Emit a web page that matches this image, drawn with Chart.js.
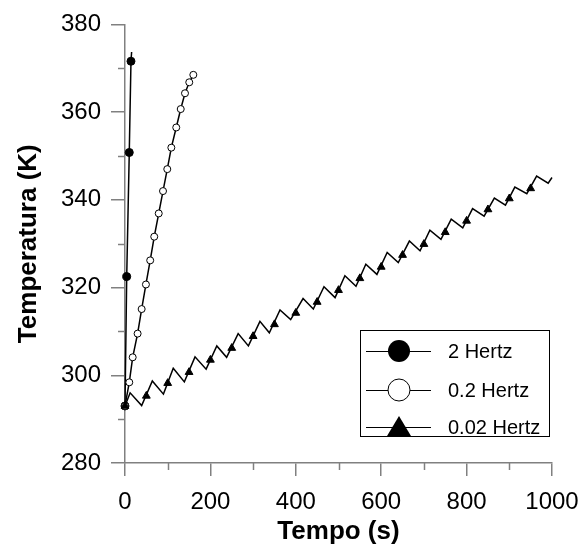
<!DOCTYPE html>
<html>
<head>
<meta charset="utf-8">
<script src="https://cdn.jsdelivr.net/npm/chart.js@4.4.0/dist/chart.umd.min.js"></script>
<style>
  body { margin: 0; background: #ffffff; }
</style>
</head>
<body>
<canvas id="myChart" width="586" height="546"></canvas>
<script>
// 2 Hertz
const hz2Time = [0, 4, 10, 14, 15.5];
const hz2Temp = [293.0, 322.5, 350.8, 371.6, 373.7];
const hz2MarkTime = [0, 4, 10, 14];
const hz2MarkTemp = [293.0, 322.5, 350.8, 371.6];

// 0.2 Hertz
const hz02Time = [0, 10, 18, 29.5, 39, 49, 59, 68.5, 79, 89, 99, 108.5, 120, 130.5, 140.5, 150.5, 160];
const hz02Temp = [293.0, 298.4, 304.1, 309.5, 315.1, 320.7, 326.2, 331.6, 336.9, 342.0, 347.0, 351.9, 356.5, 360.7, 364.3, 366.8, 368.5];

// 0.02 Hertz (sawtooth vertices)
const hz002Time = [0, 12, 39, 64, 90, 113, 139, 164, 190, 215, 238, 265, 289, 316, 338, 363, 388, 417, 441, 466,
  492, 515, 541, 564, 590, 614, 640, 666, 691, 714, 740, 764, 791, 814, 841, 865, 891, 913, 941, 964, 991, 1000];
const hz002Temp = [293.0, 296.0, 293.1, 298.7, 295.7, 301.6, 298.5, 304.2, 301.4, 306.7, 304.1, 309.5, 306.7, 312.3,
  309.7, 314.9, 312.7, 317.5, 315.1, 320.2, 317.7, 322.7, 320.3, 325.3, 323.0, 328.0, 325.7, 330.6, 328.4, 333.1,
  331.0, 335.6, 333.6, 338.0, 336.3, 340.4, 338.8, 342.9, 341.4, 345.4, 343.8, 345.1];
const hz002MarkTime = [0, 50, 100, 150, 200, 250, 300, 350, 400, 450, 500, 550, 600, 650, 700, 750, 800, 850, 900, 950];
const hz002MarkTemp = [293.0, 295.3, 298.2, 300.7, 303.5, 306.2, 308.9, 311.6, 314.2, 316.7, 319.4, 322.1, 324.7,
  327.4, 329.9, 332.6, 335.2, 337.8, 340.3, 342.6];

const legendLabels = ["2 Hertz", "0.2 Hertz", "0.02 Hertz"];
const yMinorTicks = [290, 310, 330, 350, 370];
const xMinorTicks = [100, 300, 500, 700, 900];

function toPoints(xs, ys) {
  let pts = [];
  for (let i = 0; i < xs.length; i++) {
    pts.push({ x: xs[i], y: ys[i] });
  }
  return pts;
}

const axisGrey = "#808080";
const fontFamily = "'Liberation Sans', Arial, sans-serif";

// minor ticks (shorter than the major ones)
const minorTicks = {
  id: "minorTicks",
  afterDraw(chart) {
    const ctx = chart.ctx;
    const xs = chart.scales.x;
    const ys = chart.scales.y;
    ctx.save();
    ctx.strokeStyle = axisGrey;
    ctx.lineWidth = 1.5;
    yMinorTicks.forEach(function (v) {
      let py = Math.round(ys.getPixelForValue(v)) + 0.5;
      ctx.beginPath();
      ctx.moveTo(ys.right - 7, py);
      ctx.lineTo(ys.right, py);
      ctx.stroke();
    });
    xMinorTicks.forEach(function (v) {
      let px = Math.round(xs.getPixelForValue(v)) + 0.5;
      ctx.beginPath();
      ctx.moveTo(px, xs.top);
      ctx.lineTo(px, xs.top + 7);
      ctx.stroke();
    });
    ctx.restore();
  }
};

// boxed legend inside the plot, line through marker
const boxLegend = {
  id: "boxLegend",
  afterDraw(chart) {
    const ctx = chart.ctx;
    const left = 360, top = 330, w = 189, h = 106;
    const rows = [351, 390, 427];
    ctx.save();
    ctx.fillStyle = "#ffffff";
    ctx.fillRect(left, top, w, h);
    ctx.strokeStyle = "#000000";
    ctx.lineWidth = 1;
    ctx.strokeRect(left + 0.5, top + 0.5, w, h);
    for (let i = 0; i < rows.length; i++) {
      let y = rows[i];
      ctx.beginPath();
      ctx.moveTo(366, y + 0.5);
      ctx.lineTo(431, y + 0.5);
      ctx.stroke();
      ctx.beginPath();
      if (i === 0) {
        ctx.arc(399, y, 11, 0, Math.PI * 2);
        ctx.fillStyle = "#000000";
        ctx.fill();
      } else if (i === 1) {
        ctx.arc(399, y, 11, 0, Math.PI * 2);
        ctx.fillStyle = "#ffffff";
        ctx.fill();
        ctx.stroke();
      } else {
        ctx.moveTo(399, y - 11);
        ctx.lineTo(411, y + 9);
        ctx.lineTo(387, y + 9);
        ctx.closePath();
        ctx.fillStyle = "#000000";
        ctx.fill();
      }
      ctx.fillStyle = "#000000";
      ctx.font = "20px " + fontFamily;
      ctx.textBaseline = "middle";
      ctx.textAlign = "left";
      ctx.fillText(legendLabels[i], 448, y + 1);
    }
    ctx.restore();
  }
};

let ctx = document.getElementById("myChart");

let myChart = new Chart(ctx, {
  type: "scatter",
  data: {
    datasets: [
      {
        label: "0.02 Hertz line",
        data: toPoints(hz002Time, hz002Temp),
        showLine: true,
        borderColor: "#000000",
        borderWidth: 1.5,
        pointRadius: 0,
        clip: false,
      },
      {
        label: "0.02 Hertz",
        data: toPoints(hz002MarkTime, hz002MarkTemp),
        showLine: false,
        pointStyle: "triangle",
        pointRadius: 4.5,
        backgroundColor: "#000000",
        borderColor: "#000000",
        borderWidth: 1,
        clip: false,
      },
      {
        label: "0.2 Hertz",
        data: toPoints(hz02Time, hz02Temp),
        showLine: true,
        borderColor: "#000000",
        borderWidth: 1.5,
        pointStyle: "circle",
        pointRadius: 3.5,
        backgroundColor: "#ffffff",
        pointBorderColor: "#000000",
        pointBorderWidth: 1,
        clip: false,
      },
      {
        label: "2 Hertz line",
        data: toPoints(hz2Time, hz2Temp),
        showLine: true,
        borderColor: "#000000",
        borderWidth: 1.5,
        pointRadius: 0,
        clip: false,
      },
      {
        label: "2 Hertz",
        data: toPoints(hz2MarkTime, hz2MarkTemp),
        showLine: false,
        pointStyle: "circle",
        pointRadius: 4,
        backgroundColor: "#000000",
        borderColor: "#000000",
        clip: false,
      },
    ],
  },
  options: {
    responsive: false,
    animation: false,
    layout: {
      padding: { left: 0, top: 24, right: 34, bottom: 0 },
    },
    plugins: {
      legend: { display: false },
      tooltip: { enabled: false },
    },
    scales: {
      x: {
        type: "linear",
        min: 0,
        max: 1000,
        afterFit: function (scale) {
          scale.height = 83;
          scale.paddingLeft = 0;
          scale.paddingRight = 0;
        },
        border: { color: axisGrey, width: 1.5 },
        grid: { drawOnChartArea: false, color: axisGrey, tickColor: axisGrey, tickLength: 13, lineWidth: 1.5 },
        ticks: {
          stepSize: 200,
          color: "#000000",
          padding: 12,
          maxRotation: 0,
          callback: function (value) { return String(value); },
          font: { family: fontFamily, size: 24 },
        },
        title: {
          display: true,
          text: "Tempo (s)",
          color: "#000000",
          padding: { top: 0, bottom: 0 },
          font: { family: fontFamily, size: 26, weight: "bold", lineHeight: 1.1 },
        },
      },
      y: {
        type: "linear",
        min: 280,
        max: 380,
        afterFit: function (scale) { scale.width = 125; },
        border: { color: axisGrey, width: 1.5 },
        grid: { drawOnChartArea: false, color: axisGrey, tickColor: axisGrey, tickLength: 14, lineWidth: 1.5 },
        ticks: {
          stepSize: 20,
          color: "#000000",
          padding: 10,
          font: { family: fontFamily, size: 24 },
        },
        title: {
          display: true,
          text: "Temperatura (K)",
          color: "#000000",
          padding: { top: 13, bottom: 0 },
          font: { family: fontFamily, size: 26, weight: "bold" },
        },
      },
    },
  },
  plugins: [minorTicks, boxLegend],
});
</script>
</body>
</html>
